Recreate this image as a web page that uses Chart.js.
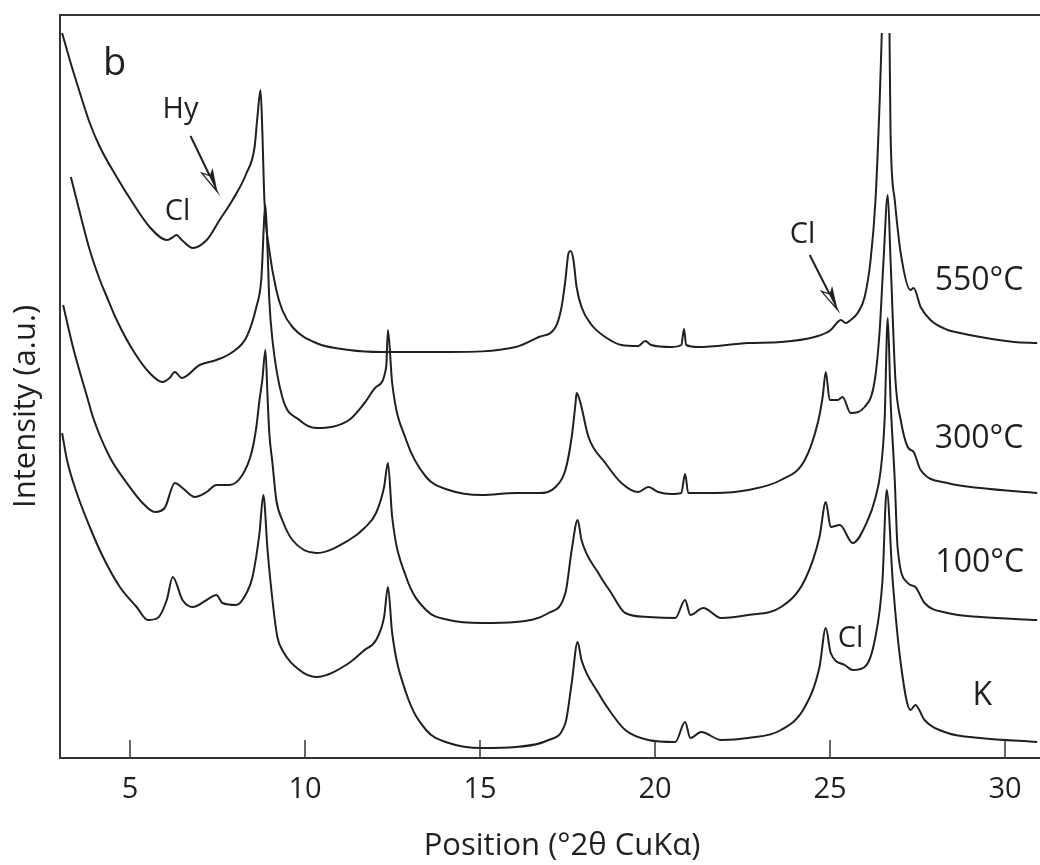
<!DOCTYPE html>
<html>
<head>
<meta charset="utf-8">
<script src="https://cdn.jsdelivr.net/npm/chart.js@4.4.0/dist/chart.umd.min.js"></script>
<style>
  html, body { margin: 0; padding: 0; background: #fff; }
  #wrap { width: 1040px; height: 865px; }
</style>
</head>
<body>
<div id="wrap"><canvas id="xrd" width="1040" height="865"></canvas></div>
<script>
// x axis range and tick labels (°2θ)
const xMin = 3, xMax = 31;
const xTicks = [5, 10, 15, 20, 25, 30];
const yMin = 0, yMax = 74.3;

// 550 °C pattern (top) - peak at 26.6 runs off the top, so there's a gap
const theta550 = [3.06, 3.28, 3.57, 3.85, 4.14, 4.62, 5.08, 5.56, 6.05, 6.19, 6.33, 6.48, 6.79, 7.19, 7.56, 7.93, 8.33, 8.56, 8.64, 8.73, 8.78, 8.84, 8.98, 9.18, 9.35, 9.64, 10.32, 11.26, 12.2, 14.11, 16.02, 16.68, 17.16, 17.33, 17.44, 17.53, 17.59, 17.67, 17.76, 17.9, 18.19, 18.58, 19.04, 19.52, 19.72, 19.89, 20.46, 20.75, 20.83, 20.89, 21.23, 22.66, 23.6, 24.56, 25.02, 25.22, 25.31, 25.45, 25.59, 25.79, 25.99, 26.16, 26.3, 26.42, 26.48, 26.6, 26.7, 26.73, 26.85, 27.02, 27.3, 27.39, 27.59, 27.87, 28.36, 28.58, 29.3, 30.26, 30.92];
const int550 = [72.5, 69.8, 66.5, 63.5, 61.1, 58.1, 55.5, 53.1, 51.8, 52.0, 52.3, 51.8, 51.0, 51.8, 53.8, 55.8, 58.5, 61.1, 64.1, 66.8, 62.8, 55.8, 50.8, 46.8, 44.8, 43.1, 41.5, 40.8, 40.6, 40.6, 41.1, 42.1, 43.1, 45.1, 47.8, 50.5, 50.7, 49.8, 47.1, 45.1, 43.3, 42.1, 41.3, 41.2, 41.7, 41.3, 41.1, 41.3, 42.9, 41.3, 41.1, 41.5, 41.6, 42.1, 42.8, 43.6, 43.8, 43.5, 43.8, 44.5, 46.1, 49.8, 55.8, 65.8, 72.5, null, 72.5, 62.5, 55.8, 50.5, 46.8, 47.0, 45.1, 43.8, 42.8, 42.6, 42.1, 41.6, 41.5];

// 300 °C
const theta300 = [3.31, 3.57, 3.85, 4.14, 4.34, 4.62, 5.08, 5.56, 5.93, 6.13, 6.28, 6.48, 6.99, 7.47, 7.93, 8.33, 8.61, 8.75, 8.87, 8.93, 8.98, 9.07, 9.35, 9.84, 10.32, 11.26, 11.7, 12.03, 12.32, 12.37, 12.49, 12.89, 13.46, 14.11, 15.05, 16.02, 16.68, 17.16, 17.44, 17.62, 17.73, 17.76, 17.87, 18.1, 18.58, 19.04, 19.52, 19.81, 20.09, 20.46, 20.75, 20.86, 20.95, 21.23, 21.72, 22.66, 23.6, 24.28, 24.65, 24.79, 24.88, 24.99, 25.22, 25.36, 25.59, 25.99, 26.28, 26.42, 26.53, 26.65, 26.73, 26.87, 27.02, 27.22, 27.39, 27.59, 28.36, 29.3, 30.92];
const int300 = [58.1, 54.5, 50.8, 47.8, 46.1, 43.8, 40.8, 38.5, 37.6, 38.0, 38.6, 38.0, 39.3, 39.8, 40.6, 42.1, 45.1, 47.8, 55.3, 50.8, 45.8, 41.8, 36.1, 33.8, 33.0, 33.8, 35.5, 37.1, 39.1, 42.8, 37.5, 31.8, 28.1, 26.8, 26.3, 26.5, 26.5, 27.1, 28.8, 32.1, 35.5, 36.5, 35.5, 32.1, 29.5, 27.5, 26.6, 27.1, 26.6, 26.4, 26.5, 28.4, 26.5, 26.5, 26.5, 26.8, 27.8, 29.8, 33.5, 36.1, 38.6, 35.8, 35.8, 36.1, 34.5, 35.1, 37.8, 42.8, 49.8, 56.3, 49.8, 37.8, 33.8, 31.1, 30.6, 28.8, 27.5, 27.0, 26.5];

// 100 °C
const theta100 = [3.09, 3.37, 3.8, 3.94, 4.42, 4.91, 5.36, 5.71, 5.99, 6.28, 6.5, 6.85, 7.19, 7.47, 7.84, 8.21, 8.47, 8.61, 8.7, 8.78, 8.87, 8.93, 8.98, 9.07, 9.18, 9.35, 9.64, 10.32, 11.26, 11.7, 12.03, 12.26, 12.37, 12.49, 12.89, 13.46, 14.11, 15.05, 16.02, 16.96, 17.44, 17.62, 17.79, 17.9, 18.38, 18.75, 19.15, 19.81, 20.58, 20.86, 21.01, 21.38, 21.89, 22.66, 23.6, 24.28, 24.7, 24.88, 25.02, 25.28, 25.65, 26.08, 26.28, 26.45, 26.56, 26.65, 26.73, 26.85, 26.93, 27.22, 27.44, 27.7, 28.36, 29.3, 30.92];
const int100 = [45.3, 41.1, 35.8, 34.1, 30.1, 27.5, 25.5, 24.6, 25.0, 27.5, 27.0, 26.1, 26.6, 27.3, 27.3, 28.3, 30.5, 33.1, 35.8, 37.8, 40.8, 36.1, 32.5, 29.5, 25.8, 23.8, 21.8, 20.5, 21.8, 23.0, 24.5, 27.1, 29.5, 24.1, 18.1, 14.8, 13.8, 13.5, 13.6, 14.5, 16.5, 20.8, 23.8, 21.8, 18.5, 16.5, 14.5, 14.1, 14.0, 15.8, 14.3, 15.0, 14.0, 14.3, 15.1, 17.8, 22.1, 25.6, 23.1, 23.3, 21.5, 23.8, 25.8, 28.8, 33.8, 44.0, 35.8, 27.8, 21.1, 17.5, 17.1, 15.5, 14.5, 14.1, 13.8];

// K (untreated, bottom)
const thetaK = [3.06, 3.2, 3.48, 3.85, 4.23, 4.71, 5.19, 5.51, 5.79, 6.05, 6.22, 6.5, 6.79, 7.19, 7.47, 7.64, 8.04, 8.33, 8.5, 8.7, 8.81, 8.93, 9.07, 9.21, 9.35, 9.84, 10.32, 11.26, 11.7, 12.03, 12.26, 12.37, 12.49, 12.89, 13.46, 14.11, 15.05, 16.02, 16.96, 17.44, 17.62, 17.79, 17.9, 18.38, 18.75, 19.15, 19.81, 20.58, 20.86, 21.01, 21.32, 21.89, 22.66, 23.6, 24.28, 24.7, 24.88, 25.02, 25.42, 25.65, 25.99, 26.28, 26.5, 26.62, 26.79, 27.02, 27.3, 27.44, 27.7, 28.36, 29.3, 30.92];
const intK = [32.5, 29.8, 26.5, 23.1, 20.1, 17.1, 15.1, 13.8, 14.0, 15.8, 18.1, 15.8, 15.1, 15.8, 16.3, 15.5, 15.3, 16.5, 18.1, 22.5, 26.3, 20.8, 15.8, 12.1, 10.8, 8.8, 8.1, 9.5, 10.8, 11.8, 14.1, 17.1, 12.5, 6.5, 2.8, 1.5, 1.0, 1.1, 1.8, 3.5, 7.5, 11.6, 9.8, 6.5, 4.5, 2.8, 1.8, 1.6, 3.6, 2.0, 2.6, 1.8, 2.0, 2.8, 5.1, 9.1, 13.0, 10.5, 9.3, 8.8, 9.1, 11.8, 17.8, 26.8, 17.8, 9.5, 4.8, 5.3, 3.8, 2.5, 2.0, 1.6];

// text annotations, placed in data units
const labels = [
  { text: 'b', x: 4.23, y: 68.3, size: 38 },
  { text: 'Hy', x: 5.93, y: 64.0, size: 29 },
  { text: 'Cl', x: 5.99, y: 53.8, size: 29 },
  { text: 'Cl', x: 23.85, y: 51.5, size: 29 },
  { text: '550°C', x: 27.99, y: 46.8, size: 32 },
  { text: '300°C', x: 27.99, y: 31.0, size: 32 },
  { text: '100°C', x: 28.01, y: 18.6, size: 32 },
  { text: 'Cl', x: 25.22, y: 11.1, size: 29 },
  { text: 'K', x: 29.07, y: 5.3, size: 32 }
];
const arrows = [
  { from: [6.73, 62.2], to: [7.5, 56.6] },
  { from: [24.42, 50.3], to: [25.22, 44.8] }
];

const ink = '#231f20';
const fontFam = '"Open Sans", "DejaVu Sans", sans-serif';

function pairs(xs, ys) {
  return xs.map((x, i) => ({ x: x, y: ys[i] }));
}

function serie(label, xs, ys) {
  return {
    label: label,
    data: pairs(xs, ys),
    borderColor: ink,
    borderWidth: 2,
    pointRadius: 0,
    fill: false,
    spanGaps: false,
    cubicInterpolationMode: 'monotone'
  };
}

function drawArrow(ctx, x0, y0, x1, y1) {
  const dx = x1 - x0, dy = y1 - y0;
  const len = Math.hypot(dx, dy);
  const ux = dx / len, uy = dy / len;
  const nx = -uy, ny = ux;
  const L = 24, w = 6;
  const bx = x1 - ux * L, by = y1 - uy * L;
  const nbx = x1 - ux * L * 0.75, nby = y1 - uy * L * 0.75;
  ctx.save();
  ctx.strokeStyle = ink;
  ctx.fillStyle = ink;
  ctx.lineWidth = 2;
  ctx.beginPath();
  ctx.moveTo(x0, y0);
  ctx.lineTo(nbx, nby);
  ctx.stroke();
  // filled half
  ctx.beginPath();
  ctx.moveTo(x1, y1);
  ctx.lineTo(bx - nx * w, by - ny * w);
  ctx.lineTo(nbx, nby);
  ctx.closePath();
  ctx.fill();
  // open half
  ctx.lineWidth = 1.2;
  ctx.fillStyle = '#fff';
  ctx.beginPath();
  ctx.moveTo(x1, y1);
  ctx.lineTo(bx + nx * w, by + ny * w);
  ctx.lineTo(nbx, nby);
  ctx.closePath();
  ctx.fill();
  ctx.stroke();
  ctx.restore();
}

const frame = {
  id: 'frame',
  afterDraw(chart) {
    const ctx = chart.ctx;
    const a = chart.chartArea;
    const sx = chart.scales.x, sy = chart.scales.y;
    ctx.save();
    ctx.strokeStyle = '#333';
    ctx.lineWidth = 2;
    ctx.beginPath();
    ctx.moveTo(chart.width, a.top);
    ctx.lineTo(a.left, a.top);
    ctx.lineTo(a.left, a.bottom);
    ctx.lineTo(chart.width, a.bottom);
    ctx.stroke();

    // inward tick marks + labels
    ctx.lineWidth = 1.5;
    ctx.fillStyle = ink;
    ctx.font = '29px ' + fontFam;
    ctx.textAlign = 'center';
    ctx.textBaseline = 'alphabetic';
    xTicks.forEach(v => {
      const px = sx.getPixelForValue(v);
      ctx.beginPath();
      ctx.moveTo(px, a.bottom);
      ctx.lineTo(px, a.bottom - 18);
      ctx.stroke();
      ctx.fillText(String(v), px, a.bottom + 40);
    });

    // axis titles
    ctx.font = '31px ' + fontFam;
    ctx.fillText('Position (°2θ CuKα)', 562, 855);
    ctx.save();
    ctx.translate(35, 508);
    ctx.rotate(-Math.PI / 2);
    ctx.textAlign = 'left';
    ctx.fillText('Intensity (a.u.)', 0, 0);
    ctx.restore();

    // annotations
    ctx.textAlign = 'left';
    labels.forEach(l => {
      ctx.font = l.size + 'px ' + fontFam;
      ctx.fillText(l.text, sx.getPixelForValue(l.x), sy.getPixelForValue(l.y));
    });
    arrows.forEach(ar => {
      drawArrow(ctx,
        sx.getPixelForValue(ar.from[0]), sy.getPixelForValue(ar.from[1]),
        sx.getPixelForValue(ar.to[0]), sy.getPixelForValue(ar.to[1]));
    });
    ctx.restore();
  }
};

new Chart(document.getElementById('xrd'), {
  type: 'line',
  data: {
    datasets: [
      serie('550°C', theta550, int550),
      serie('300°C', theta300, int300),
      serie('100°C', theta100, int100),
      serie('K', thetaK, intK)
    ]
  },
  options: {
    responsive: false,
    animation: false,
    layout: { padding: { left: 60, top: 15, right: 0, bottom: 107 } },
    scales: {
      x: { type: 'linear', min: xMin, max: xMax, display: false },
      y: { type: 'linear', min: yMin, max: yMax, display: false }
    },
    plugins: { legend: { display: false }, tooltip: { enabled: false } }
  },
  plugins: [frame]
});
</script>
</body>
</html>
